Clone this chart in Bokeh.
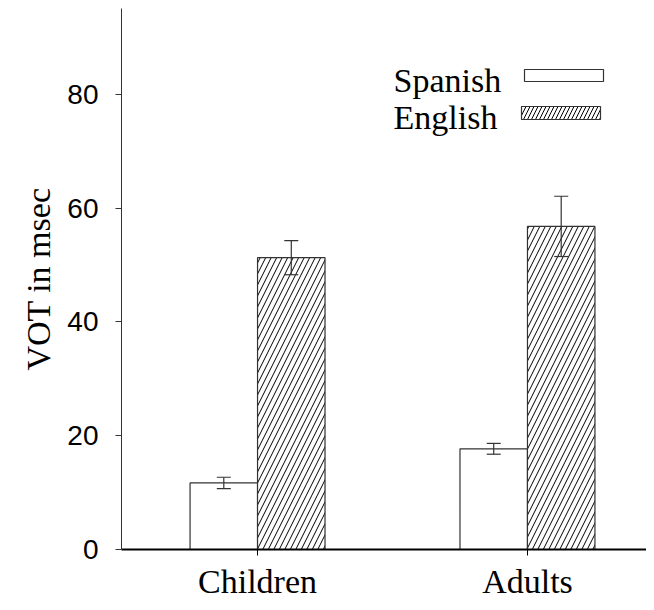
from bokeh.plotting import figure
from bokeh.models import Range1d, FixedTicker, Whisker, TeeHead, ColumnDataSource, BoxAnnotation, Label
from bokeh.embed import file_html
from bokeh.resources import INLINE

groups = ["Children", "Adults"]
spanish = [11.7, 17.7]
spanish_err = [1.0, 0.95]
english = [51.3, 56.8]
english_err = [3.0, 5.3]
y_ticks = [0, 20, 40, 60, 80]

xpos = list(range(len(groups)))
bw = 0.25

p = figure(width=646, height=602, output_backend="svg", toolbar_location=None,
           x_range=Range1d(-0.504, 1.441), y_range=Range1d(0, 95.1),
           min_border_left=121, min_border_top=8, min_border_right=0, min_border_bottom=51)
p.outline_line_color = None
p.xgrid.visible = False
p.ygrid.visible = False
p.background_fill_color = "white"

src = ColumnDataSource(dict(
    x=xpos,
    xs=[x - bw / 2 for x in xpos],
    xe=[x + bw / 2 for x in xpos],
    sp=spanish, sp_lo=[v - e for v, e in zip(spanish, spanish_err)], sp_hi=[v + e for v, e in zip(spanish, spanish_err)],
    en=english, en_lo=[v - e for v, e in zip(english, english_err)], en_hi=[v + e for v, e in zip(english, english_err)],
))

p.vbar(x="xs", width=bw, top="sp", bottom=0, source=src, fill_color="white",
       line_color="#333333", line_width=1.2)
p.vbar(x="xe", width=bw, top="en", bottom=0, source=src, fill_color="white",
       line_color="#333333", line_width=1.2, hatch_pattern="/", hatch_color="black",
       hatch_scale=11, hatch_weight=1)

for base, lo, hi in (("xs", "sp_lo", "sp_hi"), ("xe", "en_lo", "en_hi")):
    w = Whisker(base=base, lower=lo, upper=hi, source=src, dimension="height",
                line_color="#333333", line_width=1.2, level="overlay",
                upper_head=TeeHead(size=14, line_color="#333333", line_width=1.2),
                lower_head=TeeHead(size=14, line_color="#333333", line_width=1.2))
    p.add_layout(w)

# axes
p.xaxis.ticker = FixedTicker(ticks=xpos)
p.xaxis.major_label_overrides = {i: g for i, g in enumerate(groups)}
p.xaxis.major_label_text_font = "Liberation Serif"
p.xaxis.major_label_text_font_size = "34px"
p.xaxis.major_label_text_color = "black"
p.xaxis.major_label_standoff = 7
p.xaxis.major_tick_in = 0
p.xaxis.major_tick_out = 6
p.xaxis.minor_tick_line_color = None
p.xaxis.axis_line_width = 2
p.xaxis.axis_line_color = "black"
p.xaxis.major_tick_line_color = "black"

p.yaxis.ticker = FixedTicker(ticks=y_ticks)
p.yaxis.major_label_text_font = "Liberation Sans"
p.yaxis.major_label_text_font_size = "28px"
p.yaxis.major_label_text_color = "black"
p.yaxis.major_label_standoff = 17
p.yaxis.major_tick_in = 0
p.yaxis.major_tick_out = 6
p.yaxis.minor_tick_line_color = None
p.yaxis.axis_line_color = "#333333"
p.yaxis.major_tick_line_color = "#333333"
p.yaxis.axis_label = "VOT in msec"
p.yaxis.axis_label_text_font = "Liberation Serif"
p.yaxis.axis_label_text_font_size = "34px"
p.yaxis.axis_label_text_font_style = "normal"
p.yaxis.axis_label_text_color = "black"
p.yaxis.axis_label_standoff = 7

# legend (screen units relative to plot frame)
p.add_layout(Label(x=272, y=469, x_units="screen", y_units="screen", text="Spanish",
                   text_font="Liberation Serif", text_font_size="34px", text_baseline="alphabetic",
                   text_color="black"))
p.add_layout(Label(x=272, y=432, x_units="screen", y_units="screen", text="English",
                   text_font="Liberation Serif", text_font_size="34px", text_baseline="alphabetic",
                   text_color="black"))
p.add_layout(BoxAnnotation(left=403, right=482, top=480, bottom=468,
                           left_units="screen", right_units="screen", top_units="screen", bottom_units="screen",
                           fill_color="white", fill_alpha=1, line_color="#333333", line_width=1.2, line_alpha=1))
p.add_layout(BoxAnnotation(left=400, right=479, top=443, bottom=430,
                           left_units="screen", right_units="screen", top_units="screen", bottom_units="screen",
                           fill_color="white", fill_alpha=1, line_color="#333333", line_width=1.2, line_alpha=1,
                           hatch_pattern="/", hatch_color="black", hatch_scale=8, hatch_weight=1))

open("out.html", "w").write(file_html(p, INLINE))
